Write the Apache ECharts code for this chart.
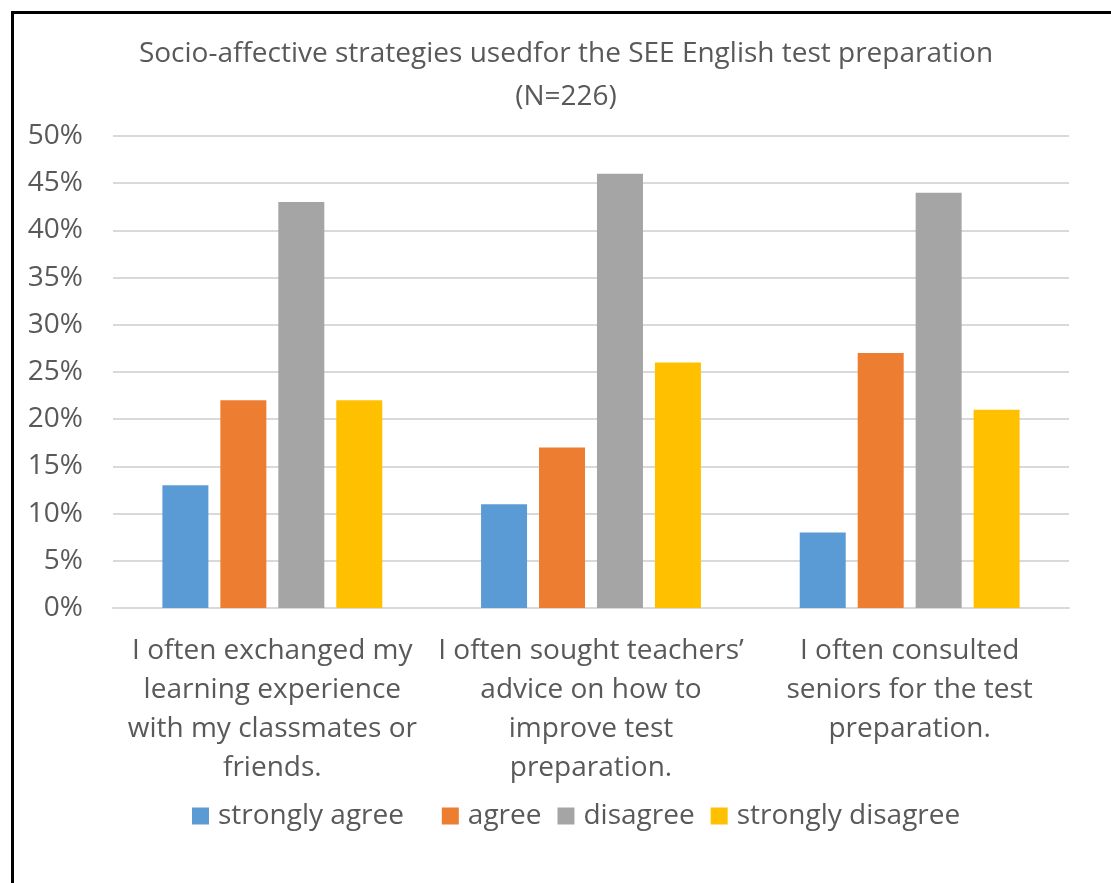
<!DOCTYPE html>
<html>
<head>
<meta charset="utf-8">
<script src="https://cdn.jsdelivr.net/npm/echarts@6/dist/echarts.min.js"></script>
<style>
  html, body { margin: 0; padding: 0; background: #fff; overflow: hidden; }
  #frame { position: absolute; left: 11px; top: 11px; width: 1200px; height: 1000px; border: 3px solid #000; box-sizing: border-box; }
  #chart { position: absolute; left: 0; top: 0; width: 1111px; height: 883px; }
</style>
</head>
<body>
<div id="frame"></div>
<div id="chart"></div>
<script>
// categories (line breaks as in the picture)
const categories = [
  "I often exchanged my\nlearning experience\nwith my classmates or\nfriends.",
  "I often sought teachers’\nadvice on how to\nimprove test\npreparation.",
  "I often consulted\nseniors for the test\npreparation."
];
const seriesNames = ["strongly agree", "agree", "disagree", "strongly disagree"];
const stronglyAgree = [13, 11, 8];
const agree = [22, 17, 27];
const disagree = [43, 46, 44];
const stronglyDisagree = [22, 26, 21];
const colors = ["#5b9bd5", "#ed7d31", "#a5a5a5", "#ffc000"];

const font = "'Open Sans', 'Noto Sans', sans-serif";
const textColor = "#595959";

const chart = echarts.init(document.getElementById("chart"));
const values = [stronglyAgree, agree, disagree, stronglyDisagree];
// trailing spaces after legend text, excel spaces the items unevenly
const legendTrail = ["   ", "", "", ""];

chart.setOption({
  animation: false,
  title: {
    text: "Socio-affective strategies usedfor the SEE English test preparation\n(N=226)",
    left: 561,
    textAlign: "center",
    top: 28,
    textStyle: { fontFamily: font, fontSize: 28, fontWeight: "normal", color: textColor, lineHeight: 43 }
  },
  legend: {
    data: seriesNames,
    bottom: 48,
    left: 187,
    itemWidth: 17,
    itemHeight: 17,
    itemGap: 16,
    icon: "rect",
    formatter: function (name) {
      return name + legendTrail[seriesNames.indexOf(name)];
    },
    textStyle: { fontFamily: font, fontSize: 28, color: textColor, padding: [0, 0, 0, 4] }
  },
  grid: { left: 113, right: 42, top: 136, bottom: 275, containLabel: false },
  xAxis: {
    type: "category",
    data: categories,
    axisLine: { lineStyle: { color: "#d9d9d9", width: 2 } },
    axisTick: { show: false },
    axisLabel: { fontFamily: font, fontSize: 28, color: textColor, lineHeight: 39, margin: 24, interval: 0 }
  },
  yAxis: {
    type: "value",
    min: 0,
    max: 50,
    interval: 5,
    axisLine: { show: false },
    axisTick: { show: false },
    splitLine: { lineStyle: { color: "#d9d9d9", width: 2 } },
    axisLabel: { fontFamily: font, fontSize: 28, color: textColor, margin: 30, formatter: "{value}%" }
  },
  series: seriesNames.map((name, i) => ({
    name: name,
    type: "bar",
    data: values[i],
    barWidth: 46,
    barGap: "26%",
    itemStyle: { color: colors[i] }
  }))
});
</script>
</body>
</html>
